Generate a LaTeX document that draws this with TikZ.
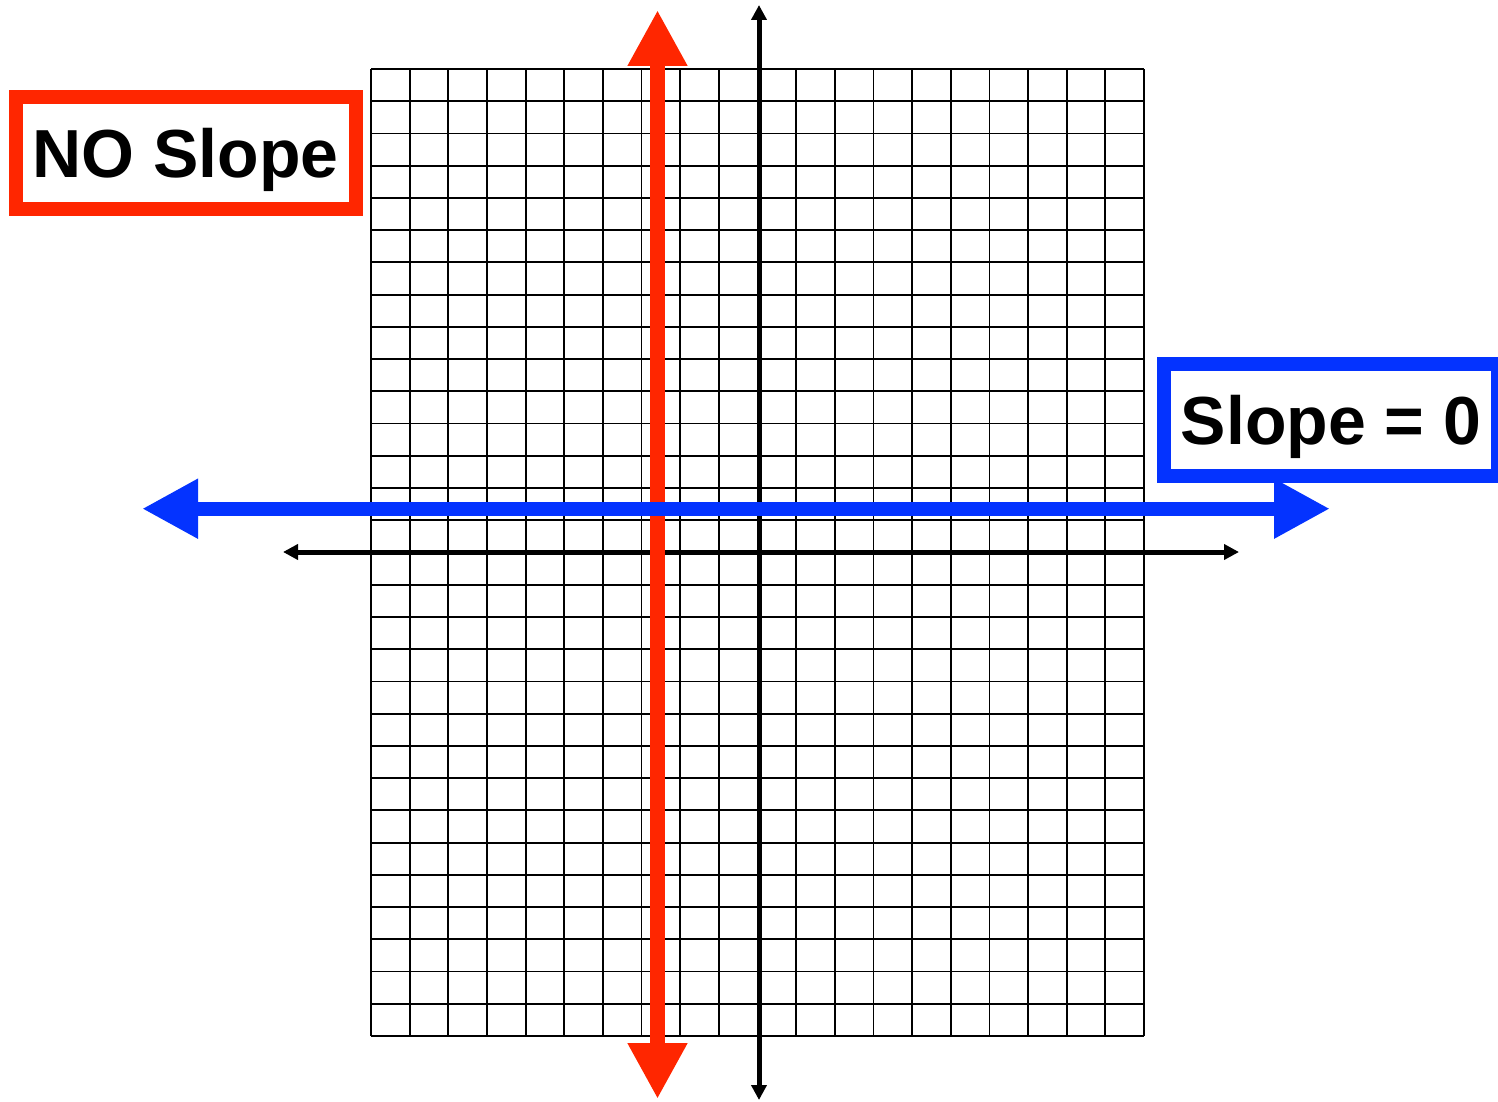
\documentclass[tikz,border=0pt]{standalone}
\usepackage{fontspec}
\setmainfont{Liberation Sans}
\usepackage{xcolor}
\usetikzlibrary{arrows.meta}

\definecolor{slopered}{HTML}{FF2600}
\definecolor{slopeblue}{HTML}{0433FF}

\begin{document}
\begin{tikzpicture}[
    x=0.5pt, y=-0.5pt,
    gridline/.style={line width=0.9pt},
    axis/.style={line width=2.5pt, {Triangle[length=7.5pt,width=7.5pt]}-{Triangle[length=7.5pt,width=7.5pt]}},
    bigline/.style={line width=7.5pt, {Triangle[length=28pt,width=28pt]}-{Triangle[length=28pt,width=28pt]}},
    lbl/.style={line width=7pt, fill=white, inner sep=0pt,
        font=\bfseries\fontsize{34}{40}\selectfont, text height=24.5pt, text depth=0pt}
]
    \useasboundingbox (0,0) rectangle (1498,1102);

    % grid 20 x 30
    \foreach \i in {0,...,20}
        \draw[gridline] ({371+\i*38.65},69) -- ({371+\i*38.65},1036);
    \foreach \j in {0,...,30}
        \draw[gridline] (371,{69+\j*32.233}) -- (1144,{69+\j*32.233});

    % axes
    \coordinate (xl) at (283,552);
    \coordinate (xr) at (1239,552);
    \coordinate (yt) at (759,5);
    \coordinate (yb) at (759,1100);
    \draw[axis] (xl) -- (xr);
    \draw[axis] (yb) -- (yt);

    % vertical line
    \coordinate (vtop) at (657.5,10);
    \coordinate (vbot) at (657.5,1099);
    \draw[bigline, slopered] (vbot) -- (vtop);

    % horizontal line
    \coordinate (hleft) at (142,508.7);
    \coordinate (hright) at (1330,508.7);
    \draw[bigline, slopeblue, line width=7pt] (hleft) -- (hright);

    \node[lbl, draw=slopered, minimum width=169.75pt, minimum height=55.75pt] (noslope) at (185.75,152.75) {NO Slope};
    \node[lbl, draw=slopeblue, minimum width=166.75pt, minimum height=56pt] (zeroslope) at (1331,420.3) {Slope = 0};
\end{tikzpicture}
\end{document}
